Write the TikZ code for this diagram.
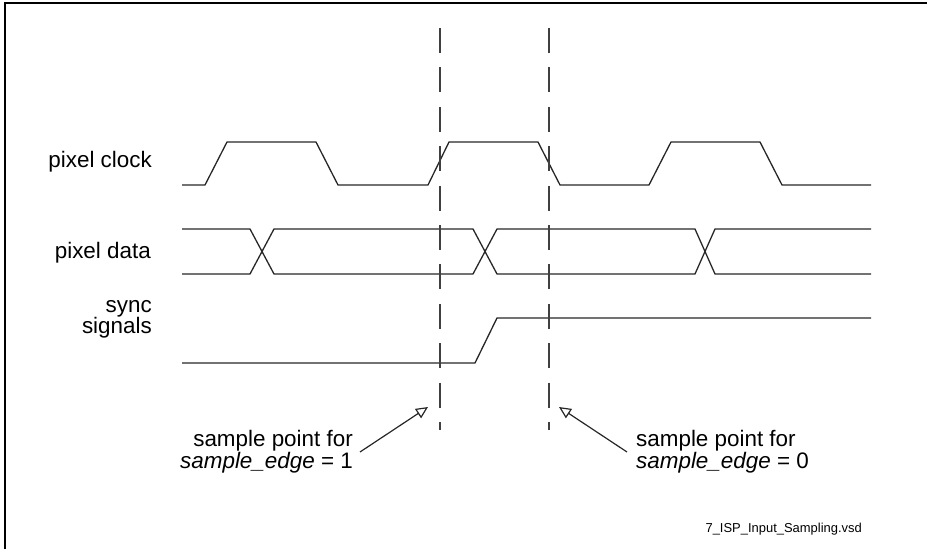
\documentclass[tikz,border=0pt]{standalone}
\usepackage{fontspec}
\setmainfont{Liberation Sans}
\usetikzlibrary{arrows.meta}
\begin{document}
\begin{tikzpicture}[x=1bp,y=-1bp,
  sig/.style={draw=black!85,line width=1.3bp,line join=miter},
  sampleline/.style={draw=black!75,line width=1.3bp,dash pattern=on 25bp off 14.4bp},
  lbl/.style={inner sep=0pt,font=\fontsize{22.5}{22}\selectfont},
  pointer/.style={draw=black!85,line width=1.2bp,-{Triangle[open,length=12bp,width=11bp]}},
  fname/.style={inner sep=0pt,font=\fontsize{13}{14}\selectfont}]
\useasboundingbox (0,0) rectangle (927,549);
% frame (left and top edges visible)
\draw[line width=1.5bp] (5,549) -- (5,3) -- (927,3);
% signal labels
\node[lbl,anchor=base east] (lclk) at (152,168) {pixel clock};
\node[lbl,anchor=base east] (ldat) at (151,259) {pixel data};
\node[lbl,anchor=base east,align=right] (lsync) at (152,334) {sync\\signals};
% pixel clock
\draw[sig] (182,185) -- (205,185) -- (227,142) -- (316,142) -- (338,185) -- (428,185)
  -- (449,142) -- (538,142) -- (560,185) -- (649,185) -- (671,142) -- (760,142)
  -- (782,185) -- (871,185);
% pixel data
\draw[sig] (182,229) -- (250,229) -- (274,274) -- (473,274) -- (497,229) -- (695,229)
  -- (715,274) -- (871,274);
\draw[sig] (182,274) -- (250,274) -- (274,229) -- (473,229) -- (497,274) -- (695,274)
  -- (715,229) -- (871,229);
% sync signals
\draw[sig] (182,363) -- (475,363) -- (497,318) -- (871,318);
% sample points
\coordinate (s1top) at (440,28);
\coordinate (s1bot) at (440,430);
\coordinate (s2top) at (549,28);
\coordinate (s2bot) at (549,430);
\draw[sampleline] (s1top) -- (s1bot);
\draw[sampleline] (s2top) -- (s2bot);
% annotations
\node[lbl,anchor=base east,align=right] (t1) at (353,468) {sample point for\\\textit{sample\_edge} = 1};
\node[lbl,anchor=base west,align=left] (t2) at (636,468) {sample point for\\\textit{sample\_edge} = 0};
\coordinate (a1tail) at (360,452);
\coordinate (a1tip) at (428,407);
\coordinate (a2tail) at (627,452);
\coordinate (a2tip) at (559,407);
\draw[pointer] (a1tail) -- (a1tip);
\draw[pointer] (a2tail) -- (a2tip);
% file name
\node[fname,anchor=base east] (fn) at (862,532) {7\_ISP\_Input\_Sampling.vsd};
\end{tikzpicture}
\end{document}
